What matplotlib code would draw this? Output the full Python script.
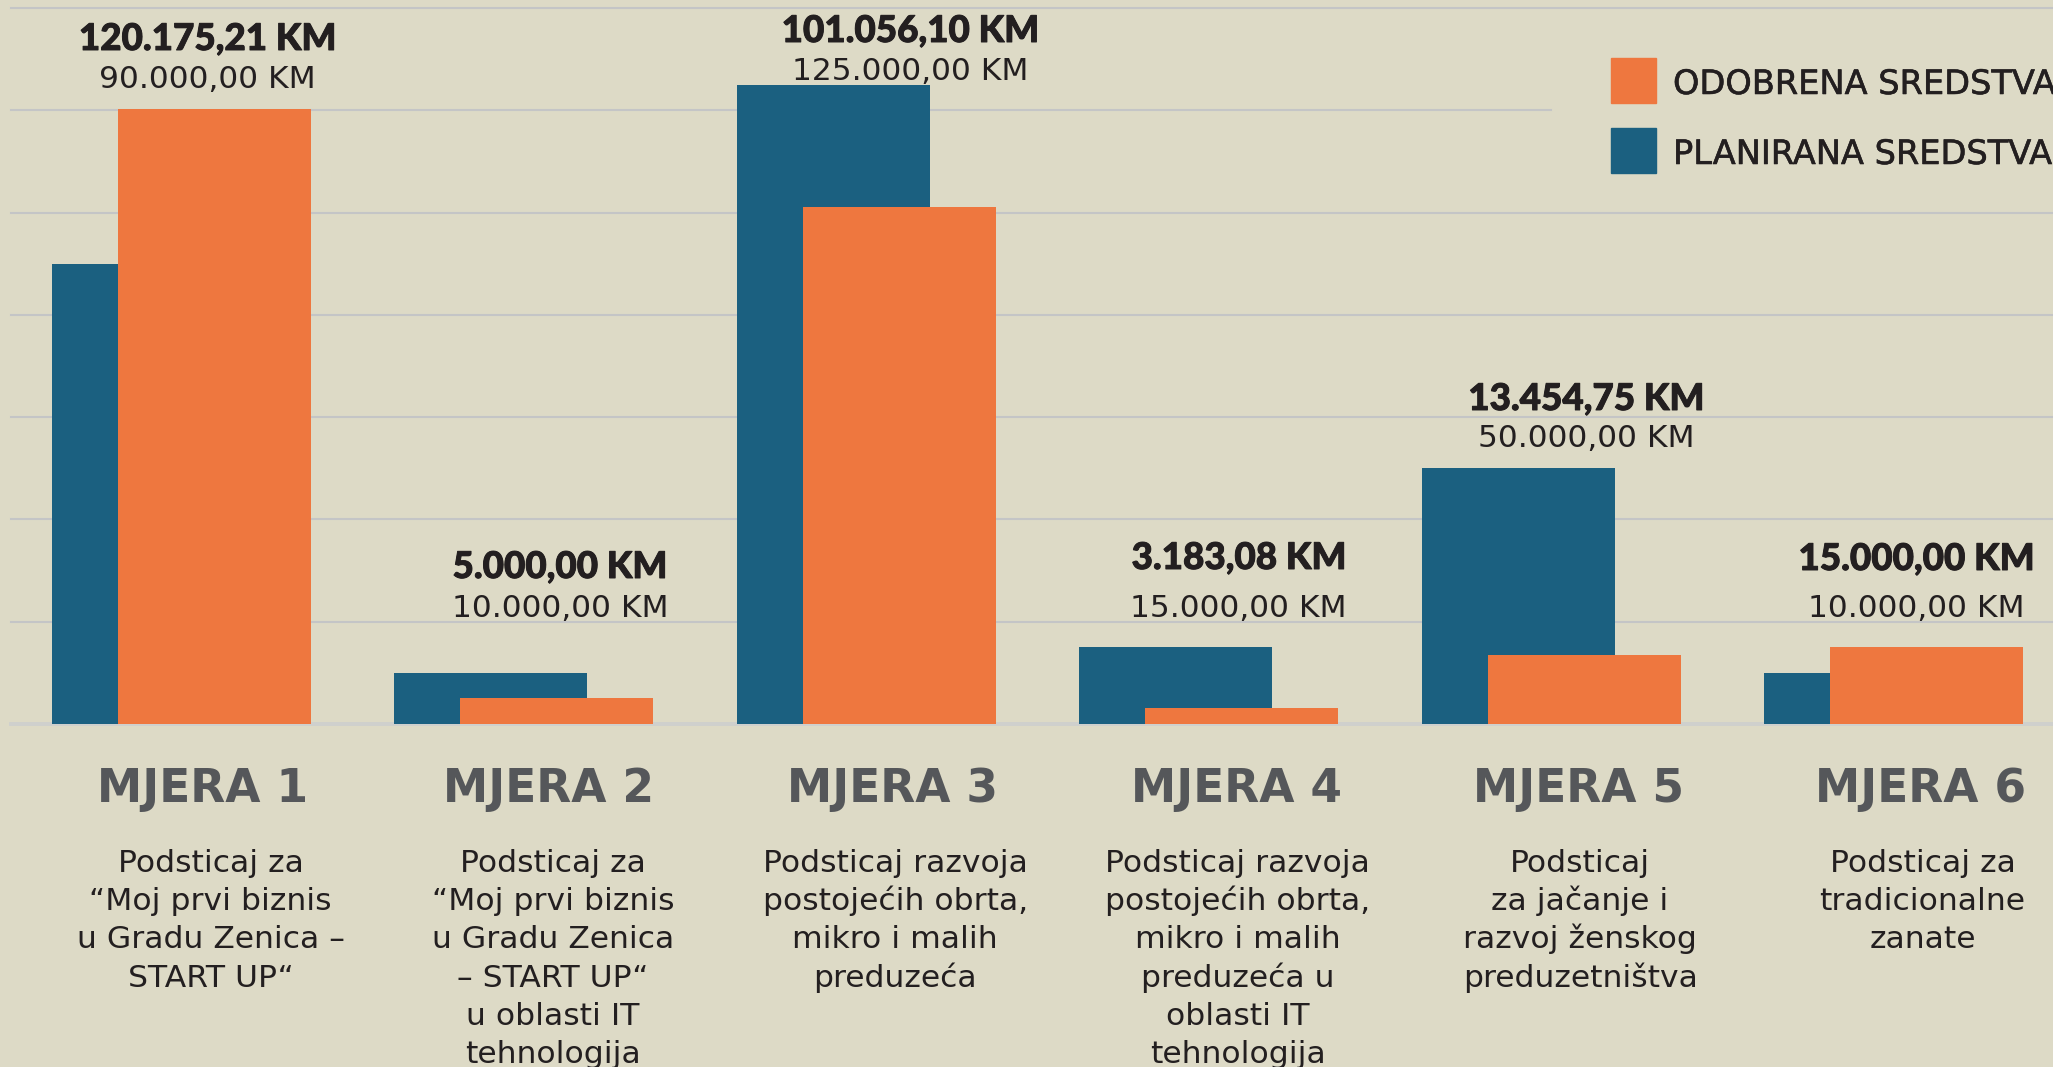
import matplotlib.pyplot as plt
import numpy as np
from matplotlib import patheffects
from matplotlib.patches import Rectangle

# data
measures = ["MJERA 1", "MJERA 2", "MJERA 3", "MJERA 4", "MJERA 5", "MJERA 6"]
descriptions = [
    ["Podsticaj za", "“Moj prvi biznis", "u Gradu Zenica –", "START UP“"],
    ["Podsticaj za", "“Moj prvi biznis", "u Gradu Zenica", "– START UP“", "u oblasti IT", "tehnologija"],
    ["Podsticaj razvoja", "postojećih obrta,", "mikro i malih", "preduzeća"],
    ["Podsticaj razvoja", "postojećih obrta,", "mikro i malih", "preduzeća u", "oblasti IT", "tehnologija"],
    ["Podsticaj", "za jačanje i", "razvoj ženskog", "preduzetništva"],
    ["Podsticaj za", "tradicionalne", "zanate"],
]
planned = [90000.00, 10000.00, 125000.00, 15000.00, 50000.00, 10000.00]
approved = [120175.21, 5000.00, 101056.10, 3183.08, 13454.75, 15000.00]
legend_labels = ["ODOBRENA SREDSTVA", "PLANIRANA SREDSTVA"]

# layout (pixels, measured from top of the image)
W, H = 2053, 1067
BASE_PX = 724
approved_label_px = [50, 578, 42, 569, 410, 570]
planned_label_px = [88, 617, 80, 617, 447, 617]
value_dx_px = [26, 36, 44, 30, 35, 23]
measure_dx_px = [21, 25, 26, 28, 27, 27]

BG = "#DDDAC6"
BLUE = "#1B6080"
ORANGE = "#EE773F"
GRID = "#C4C5C6"
DARK = "#231F20"
GREY = "#55575A"
HEAVY = "Lato"
TEXT = "DejaVu Sans"


def km(v):
    s = f"{v:,.2f}".replace(",", "X").replace(".", ",").replace("X", ".")
    return s + " KM"


fig = plt.figure(figsize=(W / 100, H / 100), dpi=100)
fig.patch.set_facecolor(BG)
ax = fig.add_axes([11 / W, (H - BASE_PX) / H, 1 - 11 / W, (BASE_PX - 8) / H])
ax.set_facecolor(BG)
ax.axis("off")

unit = 342.4  # pixels per group
x = np.arange(len(measures))
ax.set_xlim((11 - 181.5) / unit, (W - 181.5) / unit)
ax.set_ylim(0, 140000)

width = 193 / unit
off = 33 / unit

for yv in range(20000, 140001, 20000):
    xmax = (1551 - 11) / (W - 11) if yv == 120000 else 1
    ax.axhline(yv, xmax=xmax, color=GRID, lw=1.5, zorder=1, clip_on=False)
ax.axhline(0, color="#CFD0CD", lw=2.8, zorder=1, clip_on=False)

ax.bar(x - off, planned, width, color=BLUE, zorder=2)
ax.bar(x + off, approved, width, color=ORANGE, zorder=3)

thick = [patheffects.withStroke(linewidth=0.7, foreground=DARK)]
medium = [patheffects.withStroke(linewidth=0.4, foreground=DARK)]
for i in range(len(measures)):
    ax.annotate(km(approved[i]), xy=(x[i], 0), xytext=(value_dx_px[i], BASE_PX - approved_label_px[i]),
                textcoords="offset pixels", ha="center", va="baseline",
                fontsize=26.5, fontweight="black", color=DARK, family=HEAVY,
                path_effects=thick, annotation_clip=False)
    ax.annotate(km(planned[i]), xy=(x[i], 0), xytext=(value_dx_px[i], BASE_PX - planned_label_px[i]),
                textcoords="offset pixels", ha="center", va="baseline",
                fontsize=22.5, color=DARK, family=TEXT, annotation_clip=False)
    ax.annotate(measures[i], xy=(x[i], 0), xytext=(measure_dx_px[i], -78),
                textcoords="offset pixels", ha="center", va="baseline",
                fontsize=32.8, fontweight="bold", color=GREY, family=TEXT, annotation_clip=False)
    for k, line in enumerate(descriptions[i]):
        ax.annotate(line, xy=(x[i], 0), xytext=(29, -(872 + 38.2 * k - BASE_PX)),
                    textcoords="offset pixels", ha="center", va="baseline",
                    fontsize=22.6, color=DARK, family=TEXT, annotation_clip=False)

# legend
for j, (lab, col) in enumerate(zip(legend_labels, [ORANGE, BLUE])):
    top = 58 + 70 * j
    fig.add_artist(Rectangle((1611 / W, 1 - (top + 45) / H), 45 / W, 45 / H,
                             transform=fig.transFigure, color=col))
    fig.text(1673 / W, 1 - (94 + 70 * j) / H, lab, ha="left", va="baseline",
             fontsize=24.2, color=DARK, family=TEXT, path_effects=medium)

fig.savefig("out.png", dpi=100, facecolor=BG)
